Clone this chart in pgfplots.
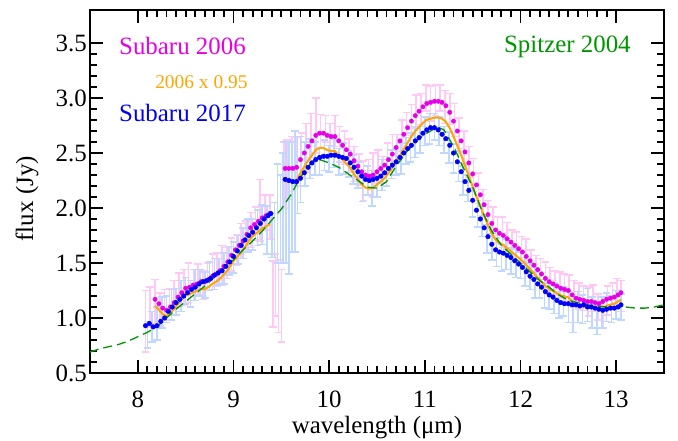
\documentclass[border=0pt]{standalone}
\usepackage{pgfplots}
\pgfplotsset{compat=1.18}
\usepackage{pgfplotstable}
\usepackage{fontspec}
\setmainfont{Liberation Serif}
\definecolor{mag}{RGB}{230,0,230}
\definecolor{org}{RGB}{255,165,0}
\definecolor{blu}{RGB}{0,0,245}
\definecolor{grn}{RGB}{0,150,0}
\definecolor{pinkbar}{RGB}{255,200,245}
\definecolor{bluebar}{RGB}{192,215,255}
\newcommand{\bigf}{\fontsize{25}{30}\selectfont}

% Subaru 2006 smoothed, segment 1
\pgfplotstableread{
x y
8.18 1.17
8.22 1.13
8.26 1.09
8.30 1.07
8.34 1.10
8.38 1.14
8.42 1.19
8.46 1.23
8.50 1.27
8.54 1.28
8.58 1.30
8.62 1.31
8.66 1.33
8.70 1.33
8.74 1.35
8.78 1.38
8.82 1.40
8.86 1.43
8.90 1.47
8.94 1.51
8.98 1.57
9.02 1.62
9.06 1.66
9.10 1.70
9.14 1.76
9.18 1.82
9.22 1.85
9.26 1.88
9.30 1.91
9.34 1.93
9.38 1.95
}\mone
% Subaru 2006 smoothed, segment 2
\pgfplotstableread{
x y
9.54 2.36
9.58 2.36
9.62 2.36
9.66 2.37
9.70 2.44
9.74 2.50
9.78 2.56
9.82 2.61
9.86 2.66
9.90 2.68
9.94 2.68
9.98 2.66
10.02 2.65
10.06 2.65
10.10 2.61
10.14 2.57
10.18 2.53
10.22 2.49
10.26 2.43
10.30 2.38
10.34 2.33
10.38 2.30
10.42 2.29
10.46 2.30
10.50 2.33
10.54 2.36
10.58 2.39
10.62 2.44
10.66 2.49
10.70 2.55
10.74 2.61
10.78 2.67
10.82 2.73
10.86 2.79
10.90 2.84
10.94 2.88
10.98 2.92
11.02 2.95
11.06 2.96
11.10 2.97
11.14 2.97
11.18 2.96
11.22 2.93
11.26 2.87
11.30 2.79
11.34 2.70
11.38 2.61
11.42 2.51
11.46 2.41
11.50 2.31
11.54 2.21
11.58 2.12
11.62 2.03
11.66 1.94
11.70 1.86
11.74 1.80
11.78 1.77
11.82 1.75
11.86 1.72
11.90 1.69
11.94 1.66
11.98 1.63
12.02 1.60
12.06 1.56
12.10 1.52
12.14 1.48
12.18 1.44
12.22 1.40
12.26 1.36
12.30 1.33
12.34 1.31
12.38 1.29
12.42 1.27
12.46 1.26
12.50 1.25
12.54 1.21
12.58 1.18
12.62 1.17
12.66 1.16
12.70 1.15
12.74 1.15
12.78 1.14
12.82 1.13
12.86 1.15
12.90 1.17
12.94 1.18
12.98 1.19
13.02 1.21
13.05 1.23
}\mtwo
% Subaru 2017 smoothed, segment 1
\pgfplotstableread{
x y
8.08 0.93
8.12 0.95
8.16 0.92
8.20 0.93
8.24 0.97
8.28 1.00
8.32 1.06
8.36 1.10
8.40 1.14
8.44 1.17
8.48 1.20
8.52 1.23
8.56 1.26
8.60 1.28
8.64 1.31
8.68 1.33
8.72 1.34
8.76 1.36
8.80 1.39
8.84 1.41
8.88 1.43
8.92 1.47
8.96 1.51
9.00 1.56
9.04 1.61
9.08 1.66
9.12 1.71
9.16 1.75
9.20 1.78
9.24 1.82
9.28 1.86
9.32 1.90
9.36 1.93
9.39 1.95
}\bone
% Subaru 2017 smoothed, segment 2
\pgfplotstableread{
x y
9.54 2.26
9.58 2.25
9.62 2.24
9.66 2.24
9.70 2.27
9.74 2.32
9.78 2.37
9.82 2.41
9.86 2.44
9.90 2.46
9.94 2.47
9.98 2.47
10.02 2.48
10.06 2.48
10.10 2.47
10.14 2.46
10.18 2.45
10.22 2.41
10.26 2.37
10.30 2.33
10.34 2.29
10.38 2.26
10.42 2.25
10.46 2.26
10.50 2.27
10.54 2.29
10.58 2.32
10.62 2.36
10.66 2.39
10.70 2.42
10.74 2.46
10.78 2.50
10.82 2.54
10.86 2.57
10.90 2.61
10.94 2.64
10.98 2.68
11.02 2.71
11.06 2.73
11.10 2.73
11.14 2.71
11.18 2.67
11.22 2.63
11.26 2.57
11.30 2.50
11.34 2.42
11.38 2.33
11.42 2.24
11.46 2.16
11.50 2.07
11.54 1.98
11.58 1.90
11.62 1.82
11.66 1.74
11.70 1.67
11.74 1.62
11.78 1.60
11.82 1.59
11.86 1.57
11.90 1.55
11.94 1.52
11.98 1.49
12.02 1.46
12.06 1.42
12.10 1.38
12.14 1.35
12.18 1.31
12.22 1.28
12.26 1.24
12.30 1.21
12.34 1.19
12.38 1.16
12.42 1.14
12.46 1.13
12.50 1.13
12.54 1.12
12.58 1.12
12.62 1.11
12.66 1.12
12.70 1.10
12.74 1.10
12.78 1.09
12.82 1.08
12.86 1.07
12.90 1.08
12.94 1.09
12.98 1.09
13.02 1.10
13.05 1.12
}\btwo
% Spitzer 2004
\pgfplotstableread{
x y
7.5 0.69
7.6 0.72
7.7 0.74
7.8 0.76
7.9 0.79
8.0 0.83
8.1 0.87
8.2 0.92
8.3 1.00
8.4 1.08
8.5 1.15
8.6 1.22
8.7 1.29
8.8 1.37
8.9 1.45
9.0 1.53
9.1 1.62
9.2 1.70
9.3 1.79
9.4 1.89
9.5 1.99
9.6 2.12
9.7 2.28
9.8 2.40
9.85 2.44
9.9 2.44
10.0 2.41
10.1 2.37
10.2 2.31
10.3 2.25
10.4 2.19
10.5 2.18
10.6 2.24
10.7 2.38
10.8 2.50
10.9 2.60
11.0 2.67
11.1 2.72
11.15 2.73
11.2 2.71
11.3 2.56
11.4 2.37
11.5 2.19
11.6 1.97
11.7 1.79
11.8 1.66
11.9 1.58
12.0 1.50
12.1 1.42
12.2 1.34
12.3 1.28
12.4 1.21
12.5 1.16
12.6 1.14
12.7 1.12
12.8 1.11
12.9 1.10
13.0 1.10
13.1 1.10
13.2 1.09
13.3 1.09
13.4 1.10
13.5 1.12
}\spitzer
% Subaru 2006 raw with errors
\pgfplotstableread{
x y e
8.08 0.97 0.28
8.13 1.10 0.18
8.18 1.15 0.20
8.23 1.08 0.15
8.28 1.12 0.14
8.33 1.15 0.12
8.38 1.22 0.12
8.43 1.26 0.15
8.48 1.28 0.16
8.53 1.32 0.18
8.58 1.30 0.14
8.63 1.35 0.14
8.68 1.30 0.13
8.73 1.38 0.12
8.78 1.42 0.16
8.83 1.44 0.15
8.88 1.48 0.18
8.93 1.50 0.14
8.98 1.58 0.15
9.03 1.62 0.14
9.08 1.70 0.16
9.13 1.74 0.14
9.18 1.80 0.16
9.23 1.86 0.15
9.28 1.98 0.28
9.33 1.96 0.16
9.38 1.92 0.20
9.41 1.22 0.30
9.44 1.30 0.28
9.47 1.20 0.33
9.50 1.11 0.33
9.53 2.30 0.30
9.56 2.35 0.27
9.61 2.40 0.25
9.66 2.42 0.22
9.71 2.48 0.20
9.76 2.55 0.22
9.81 2.66 0.20
9.86 2.75 0.25
9.91 2.70 0.15
9.96 2.72 0.12
10.01 2.62 0.15
10.06 2.70 0.14
10.11 2.58 0.16
10.16 2.55 0.15
10.21 2.48 0.15
10.26 2.40 0.16
10.31 2.35 0.14
10.36 2.25 0.18
10.41 2.28 0.16
10.46 2.30 0.20
10.51 2.38 0.15
10.56 2.35 0.12
10.61 2.45 0.14
10.66 2.52 0.15
10.71 2.55 0.12
10.76 2.66 0.14
10.81 2.72 0.15
10.86 2.80 0.14
10.91 2.88 0.15
10.96 2.90 0.14
11.01 3.00 0.12
11.06 2.95 0.16
11.11 2.98 0.14
11.16 3.00 0.12
11.21 2.92 0.15
11.26 2.90 0.14
11.31 2.80 0.15
11.36 2.68 0.14
11.41 2.55 0.15
11.46 2.42 0.14
11.51 2.30 0.15
11.56 2.18 0.14
11.61 2.05 0.12
11.66 1.95 0.12
11.71 1.88 0.13
11.76 1.80 0.12
11.81 1.78 0.14
11.86 1.75 0.12
11.91 1.68 0.12
11.96 1.65 0.13
12.01 1.62 0.12
12.06 1.58 0.14
12.11 1.50 0.12
12.16 1.46 0.11
12.21 1.42 0.12
12.26 1.38 0.13
12.31 1.34 0.12
12.36 1.32 0.11
12.41 1.30 0.12
12.46 1.28 0.12
12.51 1.26 0.13
12.56 1.22 0.12
12.61 1.20 0.12
12.66 1.18 0.11
12.71 1.15 0.13
12.76 1.18 0.12
12.81 1.10 0.12
12.86 1.05 0.14
12.91 1.16 0.13
12.96 1.20 0.12
13.01 1.24 0.12
13.05 1.20 0.14
}\pinkraw
% Subaru 2017 raw with errors
\pgfplotstableread{
x y e
8.10 0.85 0.12
8.15 0.92 0.14
8.20 0.95 0.15
8.25 1.05 0.14
8.30 1.08 0.12
8.35 1.12 0.14
8.40 1.15 0.12
8.45 1.20 0.14
8.50 1.25 0.12
8.55 1.22 0.12
8.60 1.30 0.14
8.65 1.32 0.12
8.70 1.30 0.12
8.75 1.38 0.13
8.80 1.40 0.14
8.85 1.42 0.12
8.90 1.45 0.14
8.95 1.52 0.13
9.00 1.55 0.14
9.05 1.62 0.13
9.10 1.68 0.14
9.15 1.75 0.15
9.20 1.76 0.14
9.25 1.82 0.16
9.30 1.85 0.18
9.35 1.80 0.22
9.40 1.75 0.20
9.43 1.80 0.25
9.46 1.95 0.45
9.49 1.90 0.40
9.52 2.00 0.50
9.55 2.05 0.55
9.58 2.00 0.60
9.61 2.10 0.50
9.64 2.15 0.55
9.67 2.30 0.35
9.70 2.35 0.30
9.75 2.40 0.20
9.80 2.45 0.18
9.85 2.45 0.15
9.90 2.42 0.12
9.95 2.48 0.14
10.00 2.45 0.12
10.05 2.50 0.13
10.10 2.42 0.12
10.15 2.45 0.14
10.20 2.40 0.12
10.25 2.35 0.13
10.30 2.30 0.12
10.35 2.20 0.14
10.40 2.25 0.13
10.45 2.18 0.16
10.50 2.22 0.12
10.55 2.30 0.14
10.60 2.32 0.12
10.65 2.40 0.13
10.70 2.42 0.12
10.75 2.45 0.14
10.80 2.52 0.12
10.85 2.55 0.13
10.90 2.60 0.14
10.95 2.62 0.12
11.00 2.70 0.13
11.05 2.72 0.14
11.10 2.74 0.12
11.15 2.70 0.13
11.20 2.62 0.12
11.25 2.55 0.14
11.30 2.45 0.13
11.35 2.38 0.14
11.40 2.25 0.13
11.45 2.18 0.12
11.50 2.05 0.13
11.55 1.95 0.12
11.60 1.88 0.14
11.65 1.72 0.13
11.70 1.65 0.12
11.75 1.60 0.13
11.80 1.55 0.12
11.85 1.58 0.14
11.90 1.52 0.12
11.95 1.50 0.13
12.00 1.48 0.12
12.05 1.42 0.13
12.10 1.38 0.12
12.15 1.32 0.14
12.20 1.30 0.12
12.25 1.22 0.13
12.30 1.20 0.12
12.35 1.18 0.14
12.40 1.12 0.12
12.45 1.15 0.13
12.50 1.10 0.14
12.55 1.02 0.15
12.60 1.10 0.14
12.65 1.08 0.13
12.70 1.12 0.15
12.75 1.05 0.14
12.80 1.00 0.15
12.85 1.05 0.14
12.90 1.10 0.13
12.95 1.08 0.12
13.00 1.12 0.13
13.05 1.10 0.12
}\blueraw

\begin{document}
\begin{tikzpicture}
\begin{axis}[
  name=ax,
  scale only axis,
  width=574bp, height=363bp,
  xmin=7.5, xmax=13.5, ymin=0.5, ymax=3.8,
  xtick={8,9,10,11,12,13},
  ytick={0.5,1.0,1.5,2.0,2.5,3.0,3.5},
  minor x tick num=9,
  minor y tick num=4,
  tick align=inside,
  major tick length=13bp,
  minor tick length=7bp,
  axis line style={line width=2.4bp},
  every tick/.style={black, line width=1.8bp},
  /pgf/number format/assume math mode=true,
  xticklabel={\bigf\pgfmathprintnumber{\tick}},
  yticklabel={\bigf\pgfmathprintnumber[fixed,fixed zerofill,precision=1]{\tick}},
  xticklabel style={anchor=base, yshift=-34bp},
  yticklabel style={anchor=east, inner sep=0pt, xshift=-3bp},
  xlabel={\bigf wavelength (μm)},
  ylabel={\bigf flux (Jy)},
  xlabel style={at={(axis description cs:0.5,0)}, anchor=base, yshift=-60bp},
  ylabel style={at={(axis description cs:0,0.48)}, anchor=center, yshift=63bp},
  clip=true,
]
% raw error bars
\addplot[draw=none, mark=none, forget plot,
  error bars/.cd, y dir=both, y explicit,
  error bar style={draw=pinkbar, line width=1.6bp},
  error mark options={draw=pinkbar, rotate=90, mark size=3.8bp, line width=1.6bp}]
  table[x=x, y=y, y error=e] {\pinkraw};
\addplot[draw=none, mark=none, forget plot,
  error bars/.cd, y dir=both, y explicit,
  error bar style={draw=bluebar, line width=1.6bp},
  error mark options={draw=bluebar, rotate=90, mark size=3.8bp, line width=1.6bp}]
  table[x=x, y=y, y error=e] {\blueraw};
% Subaru 2006 dots
\addplot[only marks, mark=*, mark size=2.2bp, color=mag, mark options={draw=none, fill=mag}] table[x=x,y=y] {\mone};
\addplot[only marks, mark=*, mark size=2.2bp, color=mag, mark options={draw=none, fill=mag}] table[x=x,y=y] {\mtwo};
% 2006 x 0.95
\addplot[org, line width=2bp, no markers] table[x=x, y expr=\thisrow{y}*0.95] {\mone};
\addplot[org, line width=2bp, no markers] table[x=x, y expr=\thisrow{y}*0.95] {\mtwo};
% Subaru 2017 dots
\addplot[only marks, mark=*, mark size=2.3bp, color=blu, mark options={draw=none, fill=blu}] table[x=x,y=y] {\bone};
\addplot[only marks, mark=*, mark size=2.3bp, color=blu, mark options={draw=none, fill=blu}] table[x=x,y=y] {\btwo};
% Spitzer 2004
\addplot[grn, line width=1.3bp, dash pattern=on 9bp off 5bp, no markers] table[x=x,y=y] {\spitzer};

\node[anchor=base west, inner sep=0, text=mag, font=\bigf] at (axis cs:7.803,3.395) {Subaru 2006};
\node[anchor=base east, inner sep=0, text=org, font=\fontsize{19.5}{23}\selectfont] at (axis cs:9.149,3.09) {2006 x 0.95};
\node[anchor=base west, inner sep=0, text=blu, font=\bigf] at (axis cs:7.803,2.786) {Subaru 2017};
\node[anchor=base east, inner sep=0, text=grn, font=\bigf] at (axis cs:13.154,3.41) {Spitzer 2004};
\end{axis}
\pgfresetboundingbox
\path ([xshift=-90bp,yshift=-68bp]ax.south west) rectangle ([xshift=14bp,yshift=10bp]ax.north east);
\end{tikzpicture}
\end{document}
